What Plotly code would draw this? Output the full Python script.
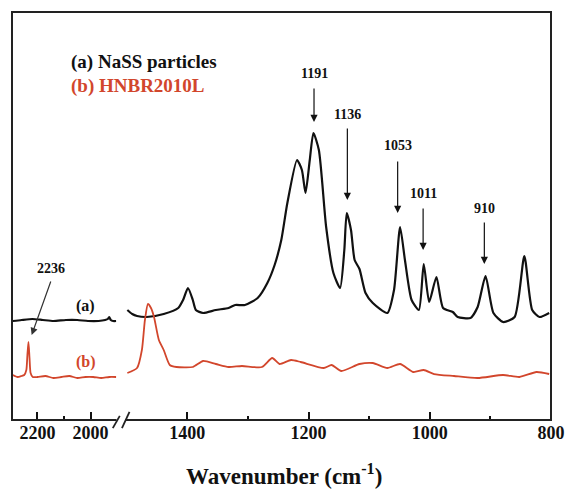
import plotly.graph_objects as go

# ---- data (wavenumber in cm^-1, intensity in arbitrary units) ----
a_left_wn = [2293, 2260, 2219, 2180, 2140, 2093, 2050, 2010, 1970, 1945, 1935, 1930, 1924, 1915, 1904]
a_left_i = [99, 100, 101, 100, 99, 100, 100, 99, 99, 100, 101, 103, 100, 99, 99]

a_right_wn = [1499, 1491, 1483, 1467, 1439, 1415, 1407, 1399, 1391, 1386, 1374, 1353, 1332, 1321,
              1305, 1284, 1268, 1256, 1245, 1235, 1219, 1211, 1205, 1198, 1192, 1183, 1171, 1159,
              1148, 1141, 1137, 1130, 1124, 1116, 1106, 1094, 1070, 1059, 1049, 1041, 1030, 1018,
              1010, 1001, 989, 978, 962, 954, 933, 921, 908, 895, 879, 860, 844, 831, 819, 803]
a_right_i = [110, 106, 104, 103, 106, 112, 120, 132, 120, 110, 107, 110, 112, 115,
             115, 122, 137, 155, 180, 217, 260, 250, 227, 260, 287, 270, 193, 147,
             132, 170, 207, 190, 160, 151, 127, 117, 107, 130, 193, 160, 120, 110,
             156, 118, 143, 112, 108, 103, 102, 113, 144, 107, 98, 103, 164, 110, 103, 107]

b_left_wn = [2293, 2275, 2260, 2250, 2242, 2238, 2234, 2230, 2226, 2218, 2200, 2170, 2140,
             2110, 2080, 2050, 2020, 1990, 1960, 1930, 1904]
b_left_i = [45, 43, 44, 45, 50, 65, 78, 62, 47, 43, 43, 44, 42, 43, 44, 42, 43, 43, 42, 43, 43]

b_right_wn = [1499, 1483, 1475, 1470, 1465, 1460, 1455, 1447, 1439, 1429, 1418, 1391, 1374,
              1353, 1332, 1310, 1277, 1260, 1248, 1229, 1213, 1175, 1162, 1146, 1116, 1094,
              1070, 1049, 1027, 1010, 993, 960, 921, 879, 852, 824, 803]
b_right_i = [47, 52, 70, 100, 116, 112, 103, 80, 70, 55, 53, 53, 59,
             56, 53, 54, 53, 62, 56, 60, 58, 52, 55, 49, 56, 57,
             52, 56, 48, 50, 46, 44, 42, 45, 43, 48, 46]

peak_labels = ["1191", "1136", "1053", "1011", "910"]
peak_wn = [1191, 1136, 1053, 1011, 910]
peak_tip = [298, 220, 207, 170, 156]
peak_tail = [333, 293, 260, 213, 199]
peak_text_y = [347, 306, 275, 227, 212]

left_ticks = [2200, 2000]
left_minor = [2100]
right_ticks = [1400, 1200, 1000, 800]
right_minor = [1300, 1100, 900]

BLACK = "#111111"
RED = "#d2462c"
FONT = "Liberation Serif"

fig = go.Figure()
fig.add_trace(go.Scatter(x=a_left_wn, y=a_left_i, xaxis="x", yaxis="y", mode="lines",
                         line=dict(color=BLACK, width=2.2, shape="spline", smoothing=0.6)))
fig.add_trace(go.Scatter(x=a_right_wn, y=a_right_i, xaxis="x2", yaxis="y", mode="lines",
                         line=dict(color=BLACK, width=2.2, shape="spline", smoothing=0.6)))
fig.add_trace(go.Scatter(x=b_left_wn, y=b_left_i, xaxis="x", yaxis="y", mode="lines",
                         line=dict(color=RED, width=1.8, shape="spline", smoothing=0.6)))
fig.add_trace(go.Scatter(x=b_right_wn, y=b_right_i, xaxis="x2", yaxis="y", mode="lines",
                         line=dict(color=RED, width=1.8, shape="spline", smoothing=0.6)))

tickfont = dict(family=FONT, size=18, color=BLACK, weight="bold")
fig.update_layout(
    width=577, height=489,
    margin=dict(l=12, r=15, t=12, b=69),
    paper_bgcolor="white", plot_bgcolor="white",
    showlegend=False,
    xaxis=dict(domain=[0, 0.2], range=[2296, 1890], tickvals=left_ticks, ticks="inside",
               ticklen=8, tickwidth=1.5, tickcolor=BLACK, showgrid=False, zeroline=False,
               showline=False, tickfont=tickfont, anchor="y",
               minor=dict(tickvals=left_minor, ticks="inside", ticklen=4, tickwidth=1.5,
                          tickcolor=BLACK, showgrid=False)),
    xaxis2=dict(domain=[0.205, 1], range=[1507, 800], tickvals=right_ticks, ticks="inside",
                ticklen=8, tickwidth=1.5, tickcolor=BLACK, showgrid=False, zeroline=False,
                showline=False, tickfont=tickfont, anchor="y",
                minor=dict(tickvals=right_minor, ticks="inside", ticklen=4, tickwidth=1.5,
                           tickcolor=BLACK, showgrid=False)),
    yaxis=dict(range=[0, 408], visible=False, showgrid=False, zeroline=False),
)

# frame: top, left, right sides and broken bottom axis line
fig.add_shape(type="path", xref="paper", yref="paper",
              path="M 0.194 0 L 0 0 L 0 1 L 1 1 L 1 0 L 0.210 0",
              line=dict(color="#222222", width=2), layer="above")
# axis break marks
slash = dict(color="#222222", width=1.8)
fig.add_shape(type="line", xref="paper", yref="paper", x0=0.187, x1=0.200, y0=-0.020, y1=0.010, line=slash)
fig.add_shape(type="line", xref="paper", yref="paper", x0=0.204, x1=0.218, y0=-0.020, y1=0.020, line=slash)

ann_font = dict(family=FONT, size=14, color=BLACK, weight="bold")
for lab, wn, tip, tail, ty in zip(peak_labels, peak_wn, peak_tip, peak_tail, peak_text_y):
    fig.add_annotation(x=wn, y=tip, xref="x2", yref="y", ax=wn, ay=tail, axref="x2", ayref="y",
                       text="", showarrow=True, arrowhead=2, arrowsize=1.2, arrowwidth=1.2,
                       arrowcolor=BLACK)
    fig.add_annotation(x=wn, y=ty, xref="x2", yref="y", text=lab, showarrow=False, font=ann_font)

fig.add_annotation(x=2222, y=85, xref="x", yref="y", ax=2148, ay=140, axref="x", ayref="y",
                   text="", showarrow=True, arrowhead=2, arrowsize=1.2, arrowwidth=1.2,
                   arrowcolor="#333333")
fig.add_annotation(x=2148, y=152, xref="x", yref="y", text="2236", showarrow=False, font=ann_font)

fig.add_annotation(x=2019, y=114, xref="x", yref="y", text="(a)", showarrow=False,
                   font=dict(family=FONT, size=16, color=BLACK, weight="bold"))
fig.add_annotation(x=2019, y=58, xref="x", yref="y", text="(b)", showarrow=False,
                   font=dict(family=FONT, size=16, color=RED, weight="bold"))

fig.add_annotation(x=0.105, y=0.877, xref="paper", yref="paper", xanchor="left", yanchor="middle",
                   text="(a) NaSS particles", showarrow=False,
                   font=dict(family=FONT, size=19, color=BLACK, weight="bold"))
fig.add_annotation(x=0.105, y=0.819, xref="paper", yref="paper", xanchor="left", yanchor="middle",
                   text="(b) HNBR2010L", showarrow=False,
                   font=dict(family=FONT, size=19, color=RED, weight="bold"))

fig.add_annotation(x=0.505, y=-0.093, xref="paper", yref="paper", xanchor="center", yanchor="top",
                   text="Wavenumber (cm<sup>-1</sup>)", showarrow=False,
                   font=dict(family=FONT, size=23, color=BLACK, weight="bold"))

fig.write_html("out.html", config={"displayModeBar": False},
               post_script="document.body.style.margin='0px';")
